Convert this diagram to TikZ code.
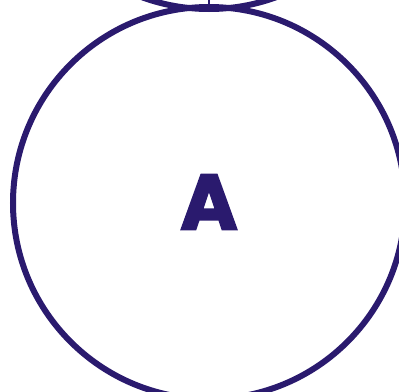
\documentclass[tikz,border=0pt]{standalone}
\usepackage{fontspec}
\setmainfont{Poppins}[BoldFeatures={FakeBold=2.5}]
\usepackage{tikz}
\usetikzlibrary{positioning}
\definecolor{treeink}{HTML}{2A1A6E}
\tikzset{
  treenode/.style={draw=treeink,circle,line width=6pt,minimum size=392pt,inner sep=0pt,
                   font=\fontsize{78}{78}\selectfont\bfseries,text=treeink},
  treeedge/.style={draw=treeink,line width=1.5pt}
}

\begin{document}
\begin{tikzpicture}[x=1pt,y=-1pt]
\useasboundingbox (0,0) rectangle (399,391);
\clip (0,0) rectangle (399,391);
\node[treenode] (root) at (209,-187) {};
\node[treenode] (nodeA) at (209,203) {\raisebox{2pt}{A}};

\draw[treeedge] (root.center) -- (nodeA.north);
\end{tikzpicture}
\end{document}
